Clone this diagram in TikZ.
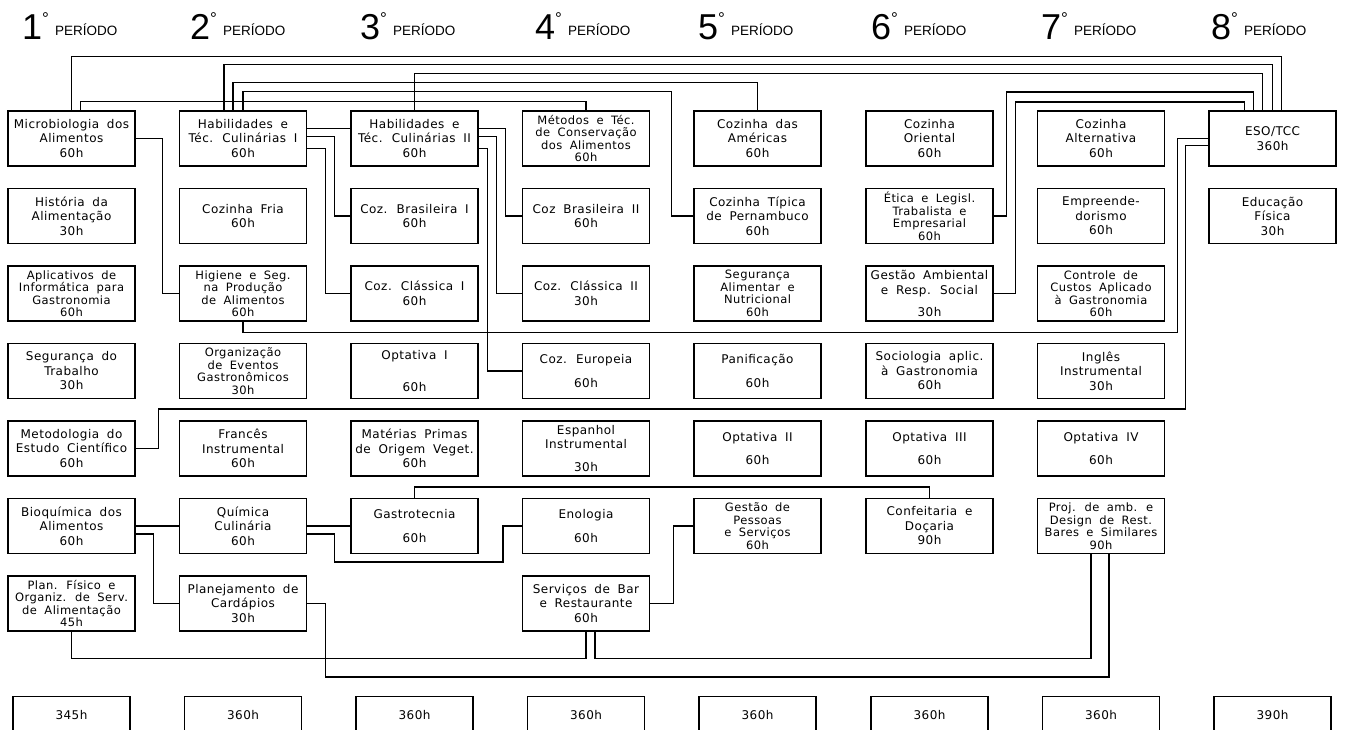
\documentclass[tikz,border=0pt]{standalone}
\usepackage{fontspec}
\setmainfont{DejaVu Sans}[LetterSpace=4,WordSpace=1.8]
\newfontfamily\hdfont{Liberation Sans}
\usepackage{tikz}
\newcommand{\hdnum}[1]{{\fontsize{36}{36}\selectfont #1}\raisebox{15pt}{\fontsize{17}{17}\selectfont °}\hspace{6pt}\raisebox{4pt}{\fontsize{13.5}{13.5}\selectfont PERÍODO}}
\tikzset{
  bx/.style={draw, line width=1.1pt, minimum width=127pt, minimum height=55pt, inner sep=1pt, align=center, font=\fontsize{12}{14.5}\selectfont},
  bx4/.style={bx, font=\fontsize{11.5}{12.5}\selectfont},
  tt/.style={draw, line width=1.1pt, minimum width=117pt, minimum height=36pt, anchor=north, font=\fontsize{12}{14}\selectfont},
  hd/.style={anchor=base west, inner sep=0pt, font=\hdfont},
  cn/.style={line width=1.1pt},
  grade/.style={x=1pt, y=-1pt}
}

\begin{document}
\begin{tikzpicture}[grade]
  \useasboundingbox (0,0) rectangle (1345,729);
  % periodos
  \node[hd] (p1) at (22,39) {\hdnum{1}};
  \node[hd] (p2) at (190,39) {\hdnum{2}};
  \node[hd] (p3) at (360,39) {\hdnum{3}};
  \node[hd] (p4) at (535,39) {\hdnum{4}};
  \node[hd] (p5) at (698,39) {\hdnum{5}};
  \node[hd] (p6) at (871,39) {\hdnum{6}};
  \node[hd] (p7) at (1041,39) {\hdnum{7}};
  \node[hd] (p8) at (1211,39) {\hdnum{8}};
  % 1o periodo
  \node[bx] (mic) at (71.5,138.5) {Microbiologia dos\\Alimentos\\60h};
  \node[bx] (his) at (71.5,216) {História da\\Alimentação\\30h};
  \node[bx4] (apl) at (71.5,293.5) {Aplicativos de\\Informática para\\Gastronomia\\60h};
  \node[bx] (seg) at (71.5,371) {Segurança do\\Trabalho\\30h};
  \node[bx] (mtd) at (71.5,448.5) {Metodologia do\\Estudo Científico\\60h};
  \node[bx] (bio) at (71.5,526) {Bioquímica dos\\Alimentos\\60h};
  \node[bx4] (plf) at (71.5,603.5) {Plan. Físico e\\Organiz. de Serv.\\de Alimentação\\45h};
  % 2o periodo
  \node[bx] (hab1) at (243,138.5) {Habilidades e\\Téc. Culinárias I\\60h};
  \node[bx] (fri) at (243,216) {Cozinha Fria\\60h};
  \node[bx4] (hig) at (243,293.5) {Higiene e Seg.\\na Produção\\de Alimentos\\60h};
  \node[bx4] (org) at (243,371) {Organização\\de Eventos\\Gastronômicos\\30h};
  \node[bx] (fra) at (243,448.5) {Francês\\Instrumental\\60h};
  \node[bx] (qui) at (243,526) {Química\\Culinária\\60h};
  \node[bx] (pla) at (243,603.5) {Planejamento de\\Cardápios\\30h};
  % 3o periodo
  \node[bx] (hab2) at (414.5,138.5) {Habilidades e\\Téc. Culinárias II\\60h};
  \node[bx] (cb1) at (414.5,216) {Coz. Brasileira I\\60h};
  \node[bx] (cc1) at (414.5,293.5) {Coz. Clássica I\\60h};
  \node[bx] (op1) at (414.5,371) {Optativa I\\[17pt]60h};
  \node[bx] (mat) at (414.5,448.5) {Matérias Primas\\de Origem Veget.\\60h};
  \node[bx] (gtc) at (414.5,526) {Gastrotecnia\\[9pt]60h};
  % 4o periodo
  \node[bx4] (mco) at (586,138.5) {Métodos e Téc.\\de Conservação\\dos Alimentos\\60h};
  \node[bx] (cb2) at (586,216) {Coz Brasileira II\\60h};
  \node[bx] (cc2) at (586,293.5) {Coz. Clássica II\\30h};
  \node[bx] (eur) at (586,371) {Coz. Europeia\\[9pt]60h};
  \node[bx] (esp) at (586,448.5) {Espanhol\\Instrumental\\[8pt]30h};
  \node[bx] (eno) at (586,526) {Enologia\\[9pt]60h};
  \node[bx] (srv) at (586,603.5) {Serviços de Bar\\e Restaurante\\60h};
  % 5o periodo
  \node[bx] (ame) at (757.5,138.5) {Cozinha das\\Américas\\60h};
  \node[bx] (tip) at (757.5,216) {Cozinha Típica\\de Pernambuco\\60h};
  \node[bx4] (sal) at (757.5,293.5) {Segurança\\Alimentar e\\Nutricional\\60h};
  \node[bx] (pan) at (757.5,371) {Panificação\\[9pt]60h};
  \node[bx] (op2) at (757.5,448.5) {Optativa II\\[9pt]60h};
  \node[bx4] (gpe) at (757.5,526) {Gestão de\\Pessoas\\e Serviços\\60h};
  % 6o periodo
  \node[bx] (ori) at (929.5,138.5) {Cozinha\\Oriental\\60h};
  \node[bx4] (eti) at (929.5,216) {Ética e Legisl.\\Trabalista e\\Empresarial\\60h};
  \node[bx] (gam) at (929.5,293.5) {Gestão Ambiental\\e Resp. Social\\[8pt]30h};
  \node[bx] (soc) at (929.5,371) {Sociologia aplic.\\à Gastronomia\\60h};
  \node[bx] (op3) at (929.5,448.5) {Optativa III\\[9pt]60h};
  \node[bx] (con) at (929.5,526) {Confeitaria e\\Doçaria\\90h};
  % 7o periodo
  \node[bx] (alt) at (1101,138.5) {Cozinha\\Alternativa\\60h};
  \node[bx] (emp) at (1101,216) {Empreende-\\dorismo\\60h};
  \node[bx4] (cus) at (1101,293.5) {Controle de\\Custos Aplicado\\à Gastronomia\\60h};
  \node[bx] (ing) at (1101,371) {Inglês\\Instrumental\\30h};
  \node[bx] (op4) at (1101,448.5) {Optativa IV\\[9pt]60h};
  \node[bx4] (prj) at (1101,526) {Proj. de amb. e\\Design de Rest.\\Bares e Similares\\90h};
  % 8o periodo
  \node[bx] (eso) at (1272.5,138.5) {ESO/TCC\\360h};
  \node[bx] (edu) at (1272.5,216) {Educação\\Física\\30h};
  % totais
  \node[tt] (t1) at (71.5,696) {345h};
  \node[tt] (t2) at (243,696) {360h};
  \node[tt] (t3) at (414.5,696) {360h};
  \node[tt] (t4) at (586,696) {360h};
  \node[tt] (t5) at (757.5,696) {360h};
  \node[tt] (t6) at (929.5,696) {360h};
  \node[tt] (t7) at (1101,696) {360h};
  \node[tt] (t8) at (1272.5,696) {390h};
  % pre-requisitos, por cima
  \draw[cn] (mic.north) -- ++(0,-54) -| ([xshift=9pt]eso.north);
  \draw[cn] ([xshift=-19pt]hab1.north) -- ++(0,-46) -| (eso.north);
  \draw[cn] (hab2.north) -- ++(0,-37) -| ([xshift=-10pt]eso.north);
  \draw[cn] ([xshift=-10pt]hab1.north) -- ++(0,-28) -| (ame.north);
  \draw[cn] (hab1.north) -- ++(0,-19) -| ([xshift=-22pt]tip.west) -- (tip.west);
  \draw[cn] ([xshift=9pt]mic.north) -- ++(0,-9) -| (mco.north);
  \draw[cn] (eti.east) -- ++(13,0) -- ++(0,-124) -| ([xshift=-19pt]eso.north);
  \draw[cn] (gam.east) -- ++(22,0) -- ++(0,-191.5) -| ([xshift=-28pt]eso.north);
  \draw[cn] (hig.south) -- ++(0,11) -| ([xshift=-31pt]eso.west) -- (eso.west);
  \draw[cn] (mtd.east) -- ++(23,0) -- ++(0,-39.5) -| ([xshift=-23pt,yshift=-7pt]eso.west) -- ([yshift=-7pt]eso.west);
  % pre-requisitos, ao lado
  \draw[cn] (mic.east) -- ++(27,0) |- (hig.west);
  \draw[cn] ([yshift=10pt]hab1.east) -- ([yshift=10pt]hab2.west);
  \draw[cn] ([yshift=2pt]hab1.east) -- ++(27,0) |- (cb1.west);
  \draw[cn] ([yshift=-10pt]hab1.east) -- ++(18,0) |- (cc1.west);
  \draw[cn] ([yshift=10pt]hab2.east) -- ++(27,0) |- (cb2.west);
  \draw[cn] ([yshift=2pt]hab2.east) -- ++(18,0) |- (cc2.west);
  \draw[cn] ([yshift=-10pt]hab2.east) -- ++(9,0) |- (eur.west);
  \draw[cn] (bio.east) -- (qui.west);
  \draw[cn] ([yshift=-8pt]bio.east) -- ++(18,0) |- (pla.west);
  \draw[cn] (qui.east) -- (gtc.west);
  \draw[cn] ([yshift=-8pt]qui.east) -- ++(27,0) -- ++(0,28) -| ([xshift=-19pt]eno.west) -- (eno.west);
  \draw[cn] (gtc.north) -- ++(0,-11) -| (con.north);
  \draw[cn] (srv.east) -- ++(23,0) |- (gpe.west);
  % pre-requisitos, por baixo
  \draw[cn] (plf.south) -- ++(0,27) -| (srv.south);
  \draw[cn] ([xshift=9pt]srv.south) -- ++(0,27) -| ([xshift=-10pt]prj.south);
  \draw[cn] (pla.east) -- ++(18,0) -- ++(0,73.5) -| ([xshift=8pt]prj.south);
\end{tikzpicture}
\end{document}
